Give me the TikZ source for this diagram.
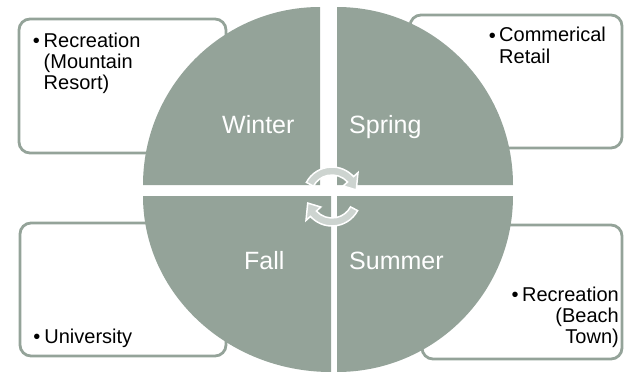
\documentclass[tikz,border=0pt]{standalone}
\usepackage{fontspec}
\setmainfont{Liberation Sans}
\usetikzlibrary{calc}

\definecolor{sagegreen}{RGB}{148,163,153}
\definecolor{arrowfill}{RGB}{205,212,208}

\begin{document}
\begin{tikzpicture}[
    x=1pt, y=-1pt,
    quadrant/.style={fill=sagegreen},
    infobox/.style={
      draw=sagegreen, fill=white, line width=2.8pt, rounded corners=11pt
    },
    seasonlabel/.style={
      font=\fontsize{25}{30}\selectfont, text=white, inner sep=0pt,
      anchor=base west
    },
    boxtext/.style={
      font=\fontsize{20}{21}\selectfont, inner sep=0pt, align=left,
      anchor=base west
    },
    bulletmark/.style={
      font=\fontsize{20}{21}\selectfont, inner sep=0pt, anchor=base east
    },
    cyclearrow/.style={fill=arrowfill, draw=white, line width=1.5pt},
  ]
  \useasboundingbox (0,0) rectangle (624,372);

  %% ---- outlined boxes behind the circle ----
  \draw[infobox] (19,19)   rectangle (226,153);
  \draw[infobox] (410,15)  rectangle (622,148);
  \draw[infobox] (20,223)  rectangle (226,356);
  \draw[infobox] (422,225) rectangle (622,359);

  %% ---- quadrant corners ----
  \coordinate (winterC) at (320,185);
  \coordinate (springC) at (337,185);
  \coordinate (fallC)   at (331,196);
  \coordinate (summerC) at (337,196);

  %% ---- the four quadrants ----
  \fill[quadrant] (winterC) -- ++(-177,0)
    arc[start angle=180, end angle=270, x radius=177, y radius=178] -- cycle;
  \fill[quadrant] (springC) -- ++(176,0)
    arc[start angle=0, end angle=-90, x radius=176, y radius=178] -- cycle;
  \fill[quadrant] (summerC) -- ++(176,0)
    arc[start angle=0, end angle=90, x radius=176, y radius=176] -- cycle;
  \fill[quadrant] (fallC) -- ++(-188,0)
    arc[start angle=180, end angle=90, x radius=188, y radius=176] -- cycle;

  %% ---- season labels ----
  \node[seasonlabel] (winter) at (222,133) {Winter};
  \node[seasonlabel] (spring) at (349,133) {Spring};
  \node[seasonlabel] (fall)   at (244,269) {Fall};
  \node[seasonlabel] (summer) at (349,269) {Summer};

  %% ---- box texts (base = last line, bullet sits on the first) ----
  \node[boxtext] (recMountain) at (43.5,89.7) {Recreation\\(Mountain\\Resort)};
  \node[bulletmark] at ([xshift=-3.5pt, yshift=42pt]recMountain.base west)
    {\textbullet};

  \node[boxtext] (retail) at (499,63) {Commerical\\Retail};
  \node[bulletmark] at ([xshift=-3pt, yshift=21pt]retail.base west)
    {\textbullet};

  \node[boxtext] (university) at (44.2,343.3) {University};
  \node[bulletmark] at ([xshift=-3.5pt]university.base west) {\textbullet};

  \node[boxtext, align=right, anchor=base east] (recBeach)
    at (619,343.7) {Recreation\\(Beach\\Town)};
  \node[bulletmark] at ([xshift=-3pt, yshift=42pt]recBeach.base west)
    {\textbullet};

  %% ---- cycle arrows in the middle ----
  \coordinate (topC) at (332,196);
  \coordinate (botC) at (332,197);

  \filldraw[cyclearrow] ($(topC)+(-152:29)$)
    arc[start angle=-152, end angle=-42, radius=29]
    -- ($(topC)+(-42:35)$) -- ($(topC)+(-14:25)$) -- ($(topC)+(-42:15)$)
    -- ($(topC)+(-42:21)$)
    arc[start angle=-42, end angle=-152, radius=21] -- cycle;

  \filldraw[cyclearrow] ($(botC)+(28:29)$)
    arc[start angle=28, end angle=138, radius=29]
    -- ($(botC)+(138:35)$) -- ($(botC)+(166:25)$) -- ($(botC)+(138:15)$)
    -- ($(botC)+(138:21)$)
    arc[start angle=138, end angle=28, radius=21] -- cycle;

\end{tikzpicture}
\end{document}
